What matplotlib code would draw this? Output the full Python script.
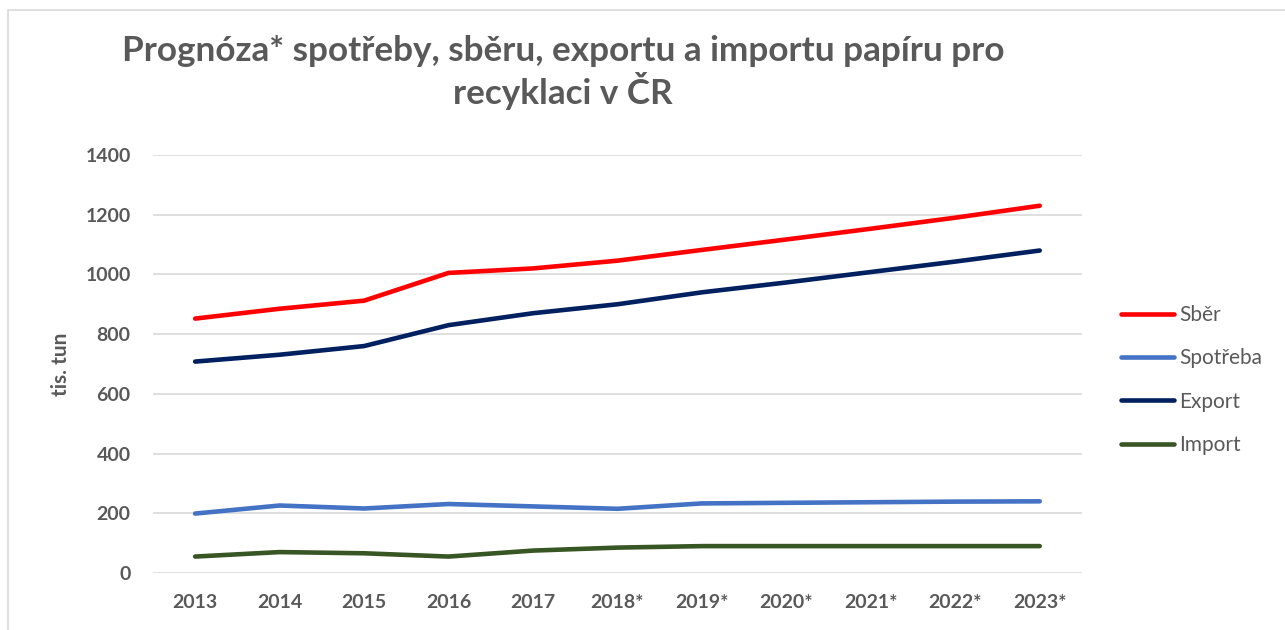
import matplotlib.pyplot as plt
from matplotlib.patches import Rectangle
import numpy as np

plt.rcParams['font.family'] = ['Lato', 'DejaVu Sans']

years = ['2013', '2014', '2015', '2016', '2017', '2018*', '2019*',
         '2020*', '2021*', '2022*', '2023*']
sber = [852, 885, 912, 1005, 1020, 1046, 1082, 1117, 1153, 1190, 1230]
spotreba = [199, 226, 216, 231, 223, 215, 233, 235, 237, 239, 240]
export = [708, 731, 760, 830, 870, 900, 940, 973, 1008, 1043, 1080]
imports = [55, 70, 66, 55, 75, 85, 90, 90, 90, 90, 90]

grey = '#595959'

fig = plt.figure(figsize=(12.85, 6.3), dpi=100)

# chart frame (left and top edges visible)
fig.patches.append(Rectangle((8 / 1285, -0.05), 1.1, 1 - 10 / 630 + 0.05,
                             transform=fig.transFigure, fill=False,
                             edgecolor='#D9D9D9', lw=1.2))

ax = fig.add_axes([0.119, 0.0905, 0.723, 0.6635])

x = np.arange(len(years))
ax.plot(x, sber, color='#FF0000', lw=3.3, label='Sběr', solid_capstyle='round')
ax.plot(x, spotreba, color='#4472C4', lw=3.3, label='Spotřeba', solid_capstyle='round')
ax.plot(x, export, color='#002060', lw=3.3, label='Export', solid_capstyle='round')
ax.plot(x, imports, color='#375623', lw=3.3, label='Import', solid_capstyle='round')

ax.set_xlim(-0.5, len(years) - 0.5)
ax.set_ylim(0, 1400)
ax.set_yticks(np.arange(0, 1401, 200))
ax.set_xticks(x)
ax.set_xticklabels(years)
ax.grid(axis='y', color='#D9D9D9', lw=1.2)
ax.set_axisbelow(True)
for s in ax.spines.values():
    s.set_visible(False)
ax.tick_params(length=0, labelsize=14, labelcolor=grey)
ax.tick_params(axis='y', pad=16)
ax.tick_params(axis='x', pad=15)
for lab in ax.get_xticklabels() + ax.get_yticklabels():
    lab.set_fontweight('bold')

ax.set_ylabel('tis. tun', fontsize=15, fontweight='bold', color=grey, labelpad=10)

fig.text(0.438, 0.885, 'Prognóza* spotřeby, sběru, exportu a importu papíru pro\nrecyklaci v ČR',
         ha='center', va='center', fontsize=25.3, fontweight='bold', color=grey,
         linespacing=1.18)

leg = fig.legend(loc='center left', bbox_to_anchor=(0.858, 0.397), frameon=False,
                 fontsize=15, handlelength=2.55, labelspacing=1.12, handletextpad=0.25)
for t in leg.get_texts():
    t.set_color(grey)

fig.savefig('out.png', dpi=100)
